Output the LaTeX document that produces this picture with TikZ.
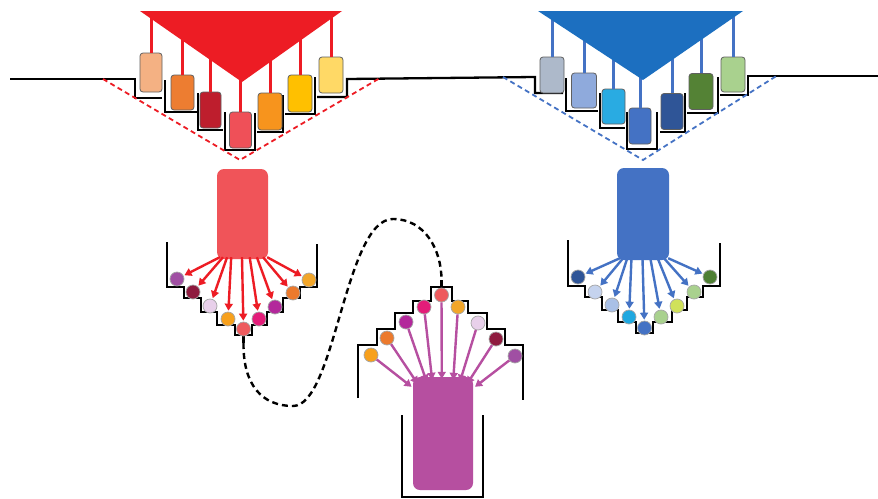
\documentclass[tikz,border=0pt]{standalone}
\usetikzlibrary{arrows.meta,calc}
\definecolor{triR}{HTML}{ED1C24}
\definecolor{triB}{HTML}{1C6FC0}
\definecolor{stemB}{HTML}{4472C4}
\definecolor{rA}{HTML}{F4B183}
\definecolor{rB}{HTML}{ED7D31}
\definecolor{rC}{HTML}{BE1E2D}
\definecolor{rD}{HTML}{EF5058}
\definecolor{rE}{HTML}{F7941D}
\definecolor{rF}{HTML}{FFC000}
\definecolor{rG}{HTML}{FFD966}
\definecolor{bA}{HTML}{ADB9CA}
\definecolor{bB}{HTML}{8FAADC}
\definecolor{bC}{HTML}{29ABE2}
\definecolor{bD}{HTML}{4472C4}
\definecolor{bE}{HTML}{2F5597}
\definecolor{bF}{HTML}{548235}
\definecolor{bG}{HTML}{A9D18E}
\definecolor{midR}{HTML}{F05459}
\definecolor{midM}{HTML}{B64FA0}
\definecolor{cPurple}{HTML}{A04FA3}
\definecolor{cMaroon}{HTML}{8E1B3F}
\definecolor{cLav}{HTML}{E8D0EA}
\definecolor{cOrY}{HTML}{F7A01C}
\definecolor{cSalmon}{HTML}{EE5B5E}
\definecolor{cPink}{HTML}{E31C79}
\definecolor{cMag}{HTML}{B3289B}
\definecolor{cOrange}{HTML}{EC7A2D}
\definecolor{cGold}{HTML}{F2A62A}
\definecolor{dBlue}{HTML}{2F5597}
\definecolor{pBlue}{HTML}{C5D3EE}
\definecolor{lBlue}{HTML}{A9C0E6}
\definecolor{cCyan}{HTML}{1FA8E0}
\definecolor{lGreen}{HTML}{A9D18E}
\definecolor{yGreen}{HTML}{D0E15A}
\definecolor{dGreen}{HTML}{4E7F33}
\begin{document}
\begin{tikzpicture}[x=1pt,y=-1pt,
  cup/.style={black,line width=2.3pt,line join=miter},
  stemR/.style={draw=triR,line width=3pt},
  stemB/.style={draw=stemB,line width=3pt},
  rbox/.style={rectangle,rounded corners=3pt,draw=gray!75!black,line width=0.8pt,inner sep=0pt},
  bigbox/.style={rectangle,rounded corners=7pt,inner sep=0pt,draw=none},
  ball/.style={circle,minimum size=14pt,inner sep=0pt,draw=gray!70,line width=0.7pt},
  trdash/.style={line width=1.8pt,dash pattern=on 5pt off 3.5pt},
  arrR/.style={draw=triR,line width=2.4pt,shorten >=1pt,-{Triangle[length=7pt,width=8pt]}},
  arrB/.style={draw=stemB,line width=2.4pt,shorten >=1pt,-{Triangle[length=7pt,width=8pt]}},
  arrM/.style={draw=midM,line width=2.4pt,-{Triangle[length=7pt,width=8pt]}},
  loopdash/.style={black,line width=2.4pt,dash pattern=on 6pt off 4pt}
]
\useasboundingbox (0,0) rectangle (878,498);
\fill[white] (0,0) rectangle (878,498);

% ---------- ground line and red cups ----------
\draw[cup] (10,79) -- (135,79) -- (135,98) -- (162,98);
\draw[cup] (165,80) -- (165,112) -- (197,112);
\draw[cup] (198,93) -- (198,130) -- (223,130);
\draw[cup] (225,112) -- (225,150) -- (255,150) -- (255,113);
\draw[cup] (257,132) -- (283,132) -- (283,95);
\draw[cup] (285,114) -- (315,114) -- (315,77);
\draw[cup] (317,97) -- (347,97) -- (347,79) -- (535,77) -- (535,93) -- (563,93);
% blue cups
\draw[cup] (566,78) -- (566,111) -- (598,111);
\draw[cup] (600,93) -- (600,128) -- (625,128);
\draw[cup] (627,112) -- (627,149) -- (657,149) -- (657,112);
\draw[cup] (660,132) -- (685,132) -- (685,93);
\draw[cup] (687,113) -- (718,113) -- (718,77);
\draw[cup] (720,95) -- (748,95) -- (748,76) -- (878,76);

% dashed triangles
\draw[triR,trdash] (103,79) -- (240,160) -- (380,78);
\draw[stemB,trdash] (503,77) -- (643,160) -- (778,75);

% ---------- red boxes ----------
\coordinate (rtop) at (0,12);
\node[rbox,fill=rA,minimum width=22pt,minimum height=39pt] (r1) at (151,72.5) {};
\node[rbox,fill=rB,minimum width=23pt,minimum height=35pt] (r2) at (182.5,92.5) {};
\node[rbox,fill=rC,minimum width=21pt,minimum height=36pt] (r3) at (210.5,110) {};
\node[rbox,fill=rD,minimum width=22pt,minimum height=36pt] (r4) at (240.5,130) {};
\node[rbox,fill=rE,minimum width=24pt,minimum height=37pt] (r5) at (270,111.5) {};
\node[rbox,fill=rF,minimum width=24pt,minimum height=37pt] (r6) at (300,93.5) {};
\node[rbox,fill=rG,minimum width=24pt,minimum height=36pt] (r7) at (331,75) {};
\foreach \n in {r1,r2,r3,r4,r5,r6,r7}{\draw[stemR] (\n.north) -- (\n.north |- rtop);}
\fill[triR] (140,11) -- (342,11) -- (242,82) -- cycle;

% ---------- blue boxes ----------
\node[rbox,fill=bA,minimum width=24pt,minimum height=36pt] (b1) at (552,75) {};
\node[rbox,fill=bB,minimum width=25pt,minimum height=35pt] (b2) at (584,90.5) {};
\node[rbox,fill=bC,minimum width=23pt,minimum height=35pt] (b3) at (613.5,106.5) {};
\node[rbox,fill=bD,minimum width=22pt,minimum height=36pt] (b4) at (640,126) {};
\node[rbox,fill=bE,minimum width=22pt,minimum height=36pt] (b5) at (672,111.5) {};
\node[rbox,fill=bF,minimum width=24pt,minimum height=36pt] (b6) at (701,91.5) {};
\node[rbox,fill=bG,minimum width=24pt,minimum height=35pt] (b7) at (733,74.5) {};
\foreach \n in {b1,b2,b3,b4,b5,b6,b7}{\draw[stemB] (\n.north) -- (\n.north |- rtop);}
\fill[triB] (538,11) -- (743,11) -- (643,80) -- cycle;

% ---------- left bowl ----------
\draw[cup] (167,242) -- (167,287) -- (184,287) -- (184,298) -- (201,298) -- (201,312) -- (217,312) -- (217,325) -- (235,325) -- (235,335) -- (252,335) -- (252,325) -- (267,325) -- (267,312) -- (283,312) -- (283,298) -- (300,298) -- (300,287) -- (317,287) -- (317,244);
\draw[cup] (243.5,335) -- (243.5,343) coordinate (ds);
\node[bigbox,fill=midR,minimum width=51pt,minimum height=90pt] (rm) at (242.5,214) {};
\node[ball,fill=cPurple] (l1) at (177,279) {};
\node[ball,fill=cMaroon] (l2) at (193,292) {};
\node[ball,fill=cLav] (l3) at (210,306) {};
\node[ball,fill=cOrY] (l4) at (228,319) {};
\node[ball,fill=cSalmon] (l5) at (243.5,329) {};
\node[ball,fill=cPink] (l6) at (259,319) {};
\node[ball,fill=cMag] (l7) at (275,307) {};
\node[ball,fill=cOrange] (l8) at (293,293) {};
\node[ball,fill=cGold] (l9) at (309,280) {};
\foreach \n/\f in {l1/0.06,l2/0.12,l3/0.2,l4/0.28,l5/0.49,l6/0.64,l7/0.78,l8/0.9,l9/0.98}{
  \draw[arrR] ($(rm.south west)!\f!(rm.south east)+(0,-2)$) -- (\n);}

% ---------- right bowl ----------
\draw[cup] (568,240) -- (568,286) -- (585,286) -- (585,297) -- (602,297) -- (602,310) -- (618,310) -- (618,322) -- (636,322) -- (636,333) -- (653,333) -- (653,322) -- (672,322) -- (672,310) -- (687,310) -- (687,297) -- (703,297) -- (703,286) -- (720,286) -- (720,243);
\node[bigbox,fill=bD,minimum width=52pt,minimum height=92pt] (bm) at (643,214) {};
\node[ball,fill=dBlue] (k1) at (578,277) {};
\node[ball,fill=pBlue] (k2) at (595,292) {};
\node[ball,fill=lBlue] (k3) at (612,305) {};
\node[ball,fill=cCyan] (k4) at (629,317) {};
\node[ball,fill=bD] (k5) at (644.5,328) {};
\node[ball,fill=lGreen] (k6) at (661,317) {};
\node[ball,fill=yGreen] (k7) at (677,306) {};
\node[ball,fill=lGreen] (k8) at (694,292) {};
\node[ball,fill=dGreen] (k9) at (710,277) {};
\foreach \n/\f in {k1/0.06,k2/0.12,k3/0.2,k4/0.28,k5/0.49,k6/0.64,k7/0.78,k8/0.9,k9/0.98}{
  \draw[arrB] ($(bm.south west)!\f!(bm.south east)+(0,-2)$) -- (\n);}

% ---------- bottom roof and cup ----------
\draw[cup] (358,398) -- (358,345) -- (377,345) -- (377,329) -- (395,329) -- (395,313) -- (413,313) -- (413,301) -- (431,301) -- (431,287) -- (452,287) -- (452,301) -- (468,301) -- (468,313) -- (487,313) -- (487,329) -- (505,329) -- (505,345) -- (523,345) -- (523,400);
\draw[cup] (441.5,287) -- (441.5,280) coordinate (de);
\draw[cup] (402,415) -- (402,497) -- (483,497) -- (483,415);
\node[bigbox,fill=midM,minimum width=60pt,minimum height=113pt] (mm) at (443,433.5) {};
\node[ball,fill=cOrY] (m1) at (371,355) {};
\node[ball,fill=cOrange] (m2) at (387,338) {};
\node[ball,fill=cMag] (m3) at (406,322) {};
\node[ball,fill=cPink] (m4) at (424,307) {};
\node[ball,fill=cSalmon] (m5) at (441.5,295) {};
\node[ball,fill=cGold] (m6) at (458,307) {};
\node[ball,fill=cLav] (m7) at (478,323) {};
\node[ball,fill=cMaroon] (m8) at (496,339) {};
\node[ball,fill=cPurple] (m9) at (515,356) {};
\foreach \n/\f/\d in {m1/-0.02/8,m2/0.08/5,m3/0.23/3,m4/0.32/1,m5/0.48/0,m6/0.67/1,m7/0.78/3,m8/0.9/5,m9/1.03/8}{
  \draw[arrM] (\n) -- ($(mm.north west)!\f!(mm.north east)+(0,\d+2)$);}

% ---------- dashed loop ----------
\draw[loopdash] (ds) .. controls (243,385) and (262,406) .. (293,406)
  .. controls (335,406) and (345,219) .. (393,219)
  .. controls (425,219) and (441.5,250) .. (de);
\end{tikzpicture}
\end{document}
